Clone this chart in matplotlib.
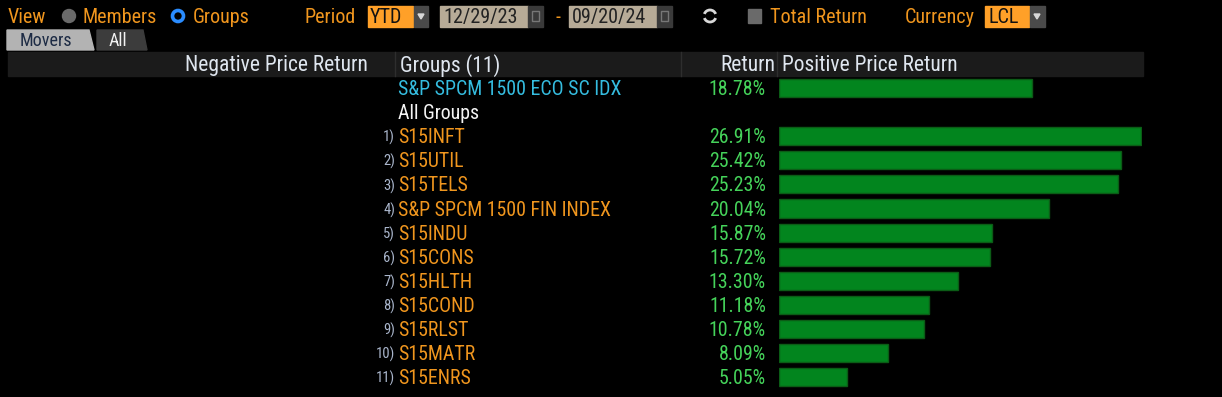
import matplotlib
matplotlib.use("Agg")
import matplotlib.pyplot as plt
from matplotlib.patches import Rectangle, Polygon, Circle, Arc
from matplotlib import transforms

# ---- data ----
index_name = "S&P SPCM 1500 ECO SC IDX"
index_return = 18.78
groups = ["S15INFT", "S15UTIL", "S15TELS", "S&P SPCM 1500 FIN INDEX", "S15INDU",
          "S15CONS", "S15HLTH", "S15COND", "S15RLST", "S15MATR", "S15ENRS"]
returns = [26.91, 25.42, 25.23, 20.04, 15.87, 15.72, 13.30, 11.18, 10.78, 8.09, 5.05]
ranks = [f"{i})" for i in range(1, len(groups) + 1)]
period = "YTD"
start_date = "12/29/23"
end_date = "09/20/24"
currency = "LCL"

FONT = ["Roboto Condensed", "DejaVu Sans"]
plt.rcParams["font.family"] = FONT

ORANGE = "#f0961e"
CYAN = "#35bde0"
GREEN_TXT = "#45d35a"
BAR = "#02851e"
BAR_EDGE = "#0b5c16"
HDR_TXT = "#dfe6ef"
RANK_TXT = "#aab6cc"

W, H = 1222, 397
fig = plt.figure(figsize=(W / 100, H / 100), dpi=100, facecolor="black")

bg = fig.add_axes([0, 0, 1, 1])
bg.set_xlim(0, W)
bg.set_ylim(H, 0)
bg.axis("off")
bg.set_facecolor("black")

# ---- top control bar ----
ty = 17.5
fs_top = 14.5
bg.text(8, ty, "View", color=ORANGE, fontsize=fs_top, va="center", ha="left")
bg.add_patch(Circle((69, 16), 6.5, color="#6a6a6a"))
bg.text(83, ty, "Members", color=ORANGE, fontsize=fs_top, va="center", ha="left")
bg.add_patch(Circle((178, 16), 5.5, facecolor="none", edgecolor="#2a8cff", linewidth=2.6))
bg.text(193, ty, "Groups", color=ORANGE, fontsize=fs_top, va="center", ha="left")

bg.text(305, ty, "Period", color=ORANGE, fontsize=fs_top, va="center", ha="left")
bg.add_patch(Rectangle((368, 6), 45, 21, color="#ffa028"))
bg.text(370, ty, period, color="#111111", fontsize=fs_top, va="center", ha="left")
bg.add_patch(Rectangle((414, 6), 14, 21, color="#4a4a4a"))
bg.add_patch(Polygon([[418, 14], [424, 14], [421, 19]], closed=True, color="#d8d8d8"))

for x0, txt in [(440, start_date), (569, end_date)]:
    bg.add_patch(Rectangle((x0, 6), 88, 21, color="#b7ab97"))
    bg.text(x0 + 3, ty, txt, color="#222222", fontsize=fs_top, va="center", ha="left")
    bg.add_patch(Rectangle((x0 + 88, 6), 15, 21, color="#3a3a3a"))
    bg.add_patch(Rectangle((x0 + 92, 11), 7, 10, facecolor="none", edgecolor="#777777", linewidth=1))
bg.text(558, ty, "-", color=ORANGE, fontsize=fs_top, va="center", ha="center")

# refresh icon
bg.add_patch(Arc((710, 16), 12, 12, theta1=20, theta2=160, color="#d8d8d8", linewidth=2))
bg.add_patch(Arc((710, 16), 12, 12, theta1=200, theta2=340, color="#d8d8d8", linewidth=2))

bg.add_patch(Rectangle((748, 9), 13, 14, color="#6a6a6a"))
bg.text(770, ty, "Total Return", color=ORANGE, fontsize=fs_top, va="center", ha="left")
bg.text(905, ty, "Currency", color=ORANGE, fontsize=fs_top, va="center", ha="left")
bg.add_patch(Rectangle((985, 6), 44, 21, color="#ffa028"))
bg.text(988, ty, currency, color="#111111", fontsize=fs_top, va="center", ha="left")
bg.add_patch(Rectangle((1030, 6), 15, 21, color="#4a4a4a"))
bg.add_patch(Polygon([[1034, 14], [1040, 14], [1037, 19]], closed=True, color="#d8d8d8"))

# ---- tabs ----
bg.add_patch(Polygon([[7, 50], [7, 30], [89, 30], [94, 50]], closed=True, color="#b3b3b3"))
bg.text(20, 41, "Movers", color="#1d2b44", fontsize=13, va="center", ha="left")
bg.add_patch(Polygon([[97, 50], [97, 30], [143, 30], [147, 50]], closed=True, color="#3c3c3c"))
bg.text(109, 41, "All", color="#f2f2f2", fontsize=13, va="center", ha="left")

# ---- header ----
bg.add_patch(Rectangle((8, 52), 1135, 24, color="#1b1b1b"))
for xd in (395, 681, 777):
    bg.plot([xd, xd], [52, 76], color="#2e2e2e", linewidth=1)
hy = 65.5
fs_hdr = 15.5
bg.text(368, hy, "Negative Price Return", color=HDR_TXT, fontsize=fs_hdr, va="center", ha="right")
bg.text(400, hy, f"Groups ({len(groups)})", color=HDR_TXT, fontsize=fs_hdr, va="center", ha="left")
bg.text(775, hy, "Return", color=HDR_TXT, fontsize=fs_hdr, va="center", ha="right")
bg.text(782, hy, "Positive Price Return", color=HDR_TXT, fontsize=fs_hdr, va="center", ha="left")

# ---- bar axes ----
px_per_pct = 13.45
xmax = 27.0
row_h = 24.1
first_y = 88
n_rows = len(groups) + 2
ax_left = 779
ax_w = xmax * px_per_pct
ax_top = first_y - row_h / 2
ax_h = n_rows * row_h
ax = fig.add_axes([ax_left / W, 1 - (ax_top + ax_h) / H, ax_w / W, ax_h / H])
ax.set_xlim(0, xmax)
ax.set_ylim(n_rows - 0.5, -0.5)
ax.axis("off")
ax.patch.set_alpha(0)

idx_y = 0
all_y = 1
grp_y = list(range(2, 2 + len(groups)))

ax.barh([idx_y], [index_return], height=0.75, color=BAR, edgecolor=BAR_EDGE, linewidth=1)
ax.barh(grp_y, returns, height=0.75, color=BAR, edgecolor=BAR_EDGE, linewidth=1)

tr0 = transforms.blended_transform_factory(bg.transData, ax.transData)
tr = transforms.offset_copy(tr0, fig=fig, y=-1.5, units="dots")
fs_row = 14.3
ax.text(398, idx_y, index_name, transform=tr, color=CYAN, fontsize=fs_row, va="center", ha="left")
ax.text(766, idx_y, f"{index_return:.2f}%", transform=tr, color=GREEN_TXT, fontsize=fs_row,
        va="center", ha="right")
ax.text(398, all_y, "All Groups", transform=tr, color="#f4f4f4", fontsize=fs_row, va="center", ha="left")
for y, name, r, rk in zip(grp_y, groups, returns, ranks):
    ax.text(395, y, rk, transform=tr, color=RANK_TXT, fontsize=10.5, va="center", ha="right")
    ax.text(398, y, name, transform=tr, color=ORANGE, fontsize=fs_row, va="center", ha="left")
    ax.text(766, y, f"{r:.2f}%", transform=tr, color=GREEN_TXT, fontsize=fs_row, va="center", ha="right")

fig.savefig("out.png", dpi=100, facecolor="black")
